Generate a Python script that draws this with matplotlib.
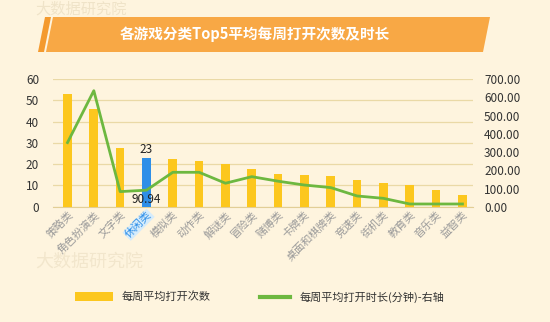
import matplotlib.pyplot as plt
from matplotlib.patches import Polygon, Rectangle
from matplotlib.lines import Line2D

plt.rcParams['font.family'] = ['Noto Sans CJK SC', 'DejaVu Sans']

categories = ['策略类', '角色扮演类', '文字类', '休闲类', '模拟类', '动作类', '解谜类', '冒险类',
              '赌博类', '卡牌类', '桌面和棋牌类', '竞速类', '街机类', '教育类', '音乐类', '益智类']
open_counts = [53, 46, 27.5, 23, 22.5, 21.5, 20, 17.8, 15.3, 14.8, 14.3, 12.7, 11.3, 10.2, 7.9, 5.4]
open_minutes = [352, 637, 83, 90.94, 189, 189, 129, 165, 140, 119, 105, 59, 46, 15, 15, 15]
highlight = 3

bg = '#FEF4DE'
yellow = '#FCC71E'
blue = '#2E8FE8'
green = '#6DB840'
grid_c = '#EAD9A6'

fig = plt.figure(figsize=(5.5, 3.22), dpi=100, facecolor=bg)

# title banner
W, H = 550, 322
def fp(x, y):
    return (x / W, 1 - y / H)
fig.patches.append(Polygon([fp(38, 52), fp(45, 17), fp(51, 17), fp(44, 52)], closed=True,
                           transform=fig.transFigure, facecolor='#F49A2E', edgecolor='none'))
fig.patches.append(Polygon([fp(46, 52), fp(53, 17), fp(490, 17), fp(483, 52)], closed=True,
                           transform=fig.transFigure, facecolor='#F8A845', edgecolor='none'))
fig.text(255 / W, 1 - 34 / H, '各游戏分类Top5平均每周打开次数及时长', color='white',
         fontsize=10.5, fontweight='bold', ha='center', va='center')

# faint watermarks
fig.text(35 / W, 1 - 9 / H, '大数据研究院', color='#EFE3C8', fontsize=11, ha='left', va='center')
fig.text(35 / W, 1 - 262 / H, '大数据研究院', color='#F2E6CC', fontsize=13, ha='left', va='center')

ax = fig.add_axes([53 / W, 0.358, 420 / W, 0.396])
ax.set_facecolor('none')
x = list(range(len(categories)))
colors = [blue if i == highlight else yellow for i in x]
ax.bar(x, open_counts, width=0.33, color=colors, zorder=3)
ax.set_xlim(-0.55, 15.4)
ax.set_ylim(0, 60)
ax.set_yticks(range(0, 61, 10))
ax.yaxis.grid(True, color=grid_c, linewidth=0.9, zorder=0)
for s in ['top', 'right', 'left']:
    ax.spines[s].set_visible(False)
ax.spines['bottom'].set_color('#E2CE96')
ax.tick_params(axis='y', length=0, labelsize=8.5, labelcolor='#333333', pad=10)
ax.tick_params(axis='x', length=0, pad=2)
ax.set_xticks(x)
ax.set_xticklabels(categories, rotation=45, ha='right', va='top', rotation_mode='anchor',
                   fontsize=7.8, color='#9A9A9A')
lab = ax.get_xticklabels()[highlight]
lab.set_color(blue)
lab.set_bbox(dict(facecolor='#D6ECFB', edgecolor='none', pad=0.5))
ax.text(highlight, open_counts[highlight] + 1, '23', ha='center', va='bottom', fontsize=8.5,
        color='#222222', zorder=5)

ax2 = ax.twinx()
ax2.plot(x, open_minutes, color=green, linewidth=2, zorder=4)
ax2.set_ylim(0, 700)
ax2.set_yticks(range(0, 701, 100))
ax2.set_yticklabels(['%.2f' % v for v in range(0, 701, 100)])
for s in ['top', 'right', 'left', 'bottom']:
    ax2.spines[s].set_visible(False)
ax2.tick_params(axis='y', length=0, labelsize=8.5, labelcolor='#333333', pad=8)
ax2.text(highlight, open_minutes[highlight] - 18, '90.94', ha='center', va='top', fontsize=8.5,
         color='#222222', zorder=6)

# legend
fig.patches.append(Rectangle((75 / W, 1 - 301 / H), 38 / W, 9 / H, transform=fig.transFigure,
                             facecolor=yellow, edgecolor='none'))
fig.text(122 / W, 1 - 297 / H, '每周平均打开次数', fontsize=8, color='#333333', va='center')
fig.lines.append(Line2D([260 / W, 290 / W], [1 - 297 / H, 1 - 297 / H], transform=fig.transFigure,
                        color=green, linewidth=3))
fig.text(300 / W, 1 - 297 / H, '每周平均打开时长(分钟)-右轴', fontsize=8, color='#333333', va='center')

fig.savefig('out.png', dpi=100, facecolor=bg)
